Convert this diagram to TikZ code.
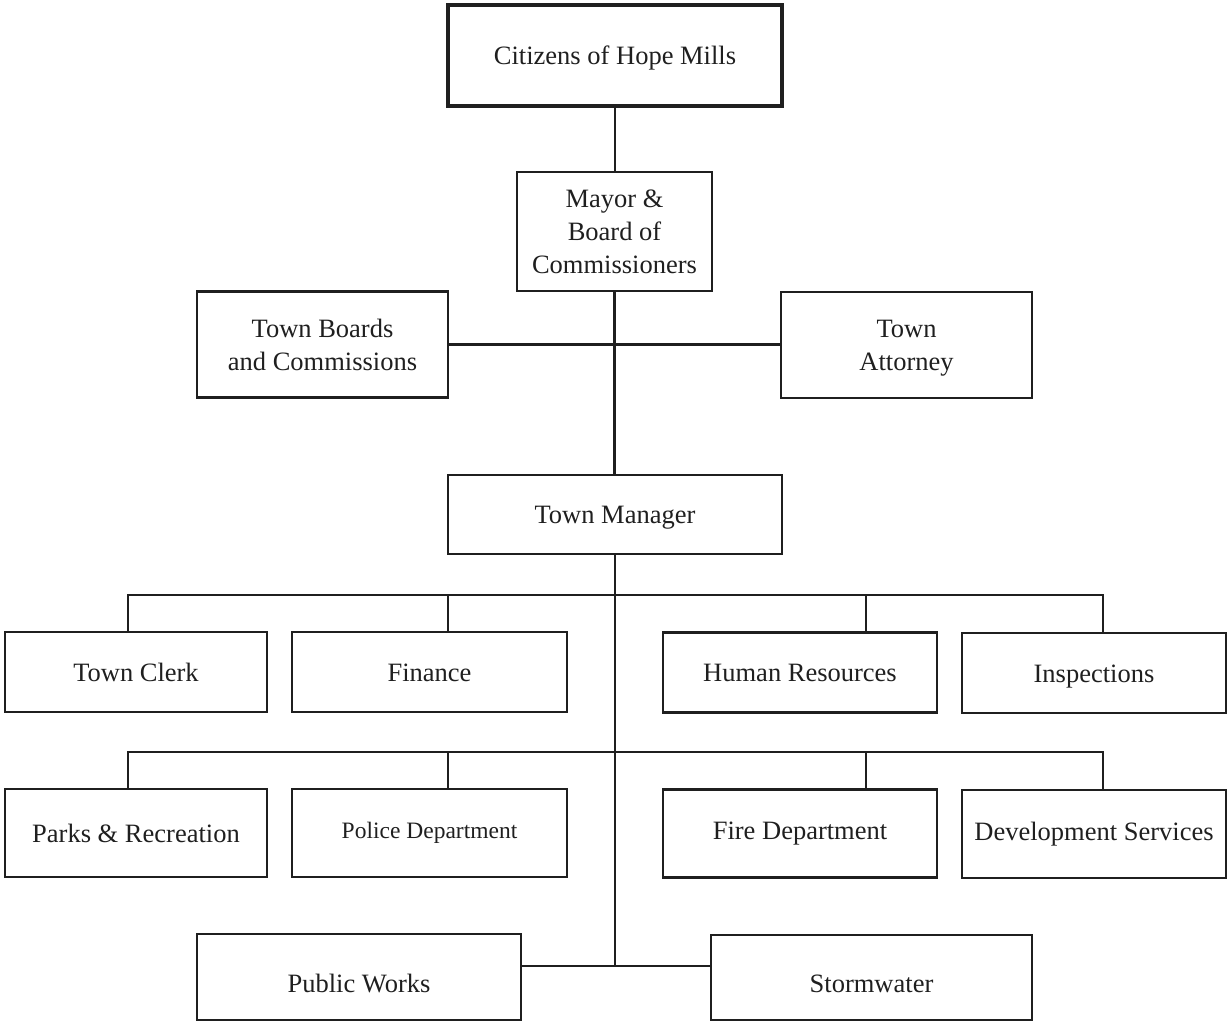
\documentclass[tikz,border=0pt]{standalone}
\usepackage{fontspec}
\setmainfont{Liberation Serif}
\begin{document}
\begin{tikzpicture}[x=1pt,y=-1pt,
  box/.style={draw=black!88, line width=2.2pt, inner sep=0pt, align=center,
    font=\fontsize{26.5}{33}\selectfont, text=black!88},
  one/.style={text height=18pt, text depth=0pt},
  low/.style={text height=30pt, text depth=0pt},
  thickbox/.style={box, line width=4pt},
  conn/.style={draw=black!88, line width=2.2pt}]
\useasboundingbox (0,0) rectangle (1228,1022);
% top
\node[thickbox, one, minimum width=334, minimum height=101] (cit) at (615,56) {Citizens of Hope Mills};
\node[box, minimum width=195, minimum height=119] (mayor) at (614.5,231.5) {Mayor \&\\Board of\\Commissioners};
\node[box, minimum width=251, minimum height=106] (boards) at (322.5,344.5) {Town Boards\\and Commissions};
\node[box, text depth=0pt, minimum width=251, minimum height=106] (atty) at (906.5,345) {Town\\Attorney};
\node[box, one, minimum width=334, minimum height=79] (mgr) at (615,514.5) {Town Manager};
% row 1
\node[box, one, minimum width=262, minimum height=80] (clerk) at (136,672) {Town Clerk};
\node[box, one, minimum width=275, minimum height=80] (fin) at (429.5,672) {Finance};
\node[box, one, minimum width=274, minimum height=80] (hr) at (800,672.5) {Human Resources};
\node[box, one, minimum width=264, minimum height=80] (insp) at (1094,673) {Inspections};
% row 2
\node[box, minimum width=262, minimum height=88] (parks) at (136,833) {Parks \& Recreation};
\node[box, minimum width=275, minimum height=88, font=\fontsize{23.5}{28}\selectfont] (police) at (429.5,833) {Police Department};
\node[box, minimum width=274, minimum height=88] (fire) at (800,833.5) {Fire Department};
\node[box, minimum width=264, minimum height=88] (dev) at (1094,834) {Development Services};
% row 3
\node[box, low, minimum width=324, minimum height=86] (pw) at (359,977) {Public Works};
\node[box, low, minimum width=321, minimum height=85] (sw) at (871.5,977.5) {Stormwater};
% coordinates
\coordinate (b1w) at (128,595);
\coordinate (b1e) at (1103,595);
\coordinate (b2w) at (128,752);
\coordinate (b2e) at (1103,752);
\coordinate (bot) at (615,966);
\coordinate (d1f) at (448,595);
\coordinate (d1h) at (866,595);
\coordinate (d2f) at (448,752);
\coordinate (d2h) at (866,752);
% connectors
\draw[conn] (cit.south) -- (mayor.north -| cit.south);
\draw[conn] (mayor.south) -- (mgr.north -| mayor.south);
\draw[conn] (boards.east) -- (atty.west |- boards.east);
\draw[conn] (mgr.south) -- (bot);
\draw[conn] (pw.east |- bot) -- (sw.west |- bot);
\draw[conn] (b1w |- clerk.north) -- (b1w) -- (b1e) -- (b1e |- insp.north);
\draw[conn] (d1f) -- (d1f |- fin.north);
\draw[conn] (d1h) -- (d1h |- hr.north);
\draw[conn] (b2w |- parks.north) -- (b2w) -- (b2e) -- (b2e |- dev.north);
\draw[conn] (d2f) -- (d2f |- police.north);
\draw[conn] (d2h) -- (d2h |- fire.north);
\end{tikzpicture}
\end{document}
